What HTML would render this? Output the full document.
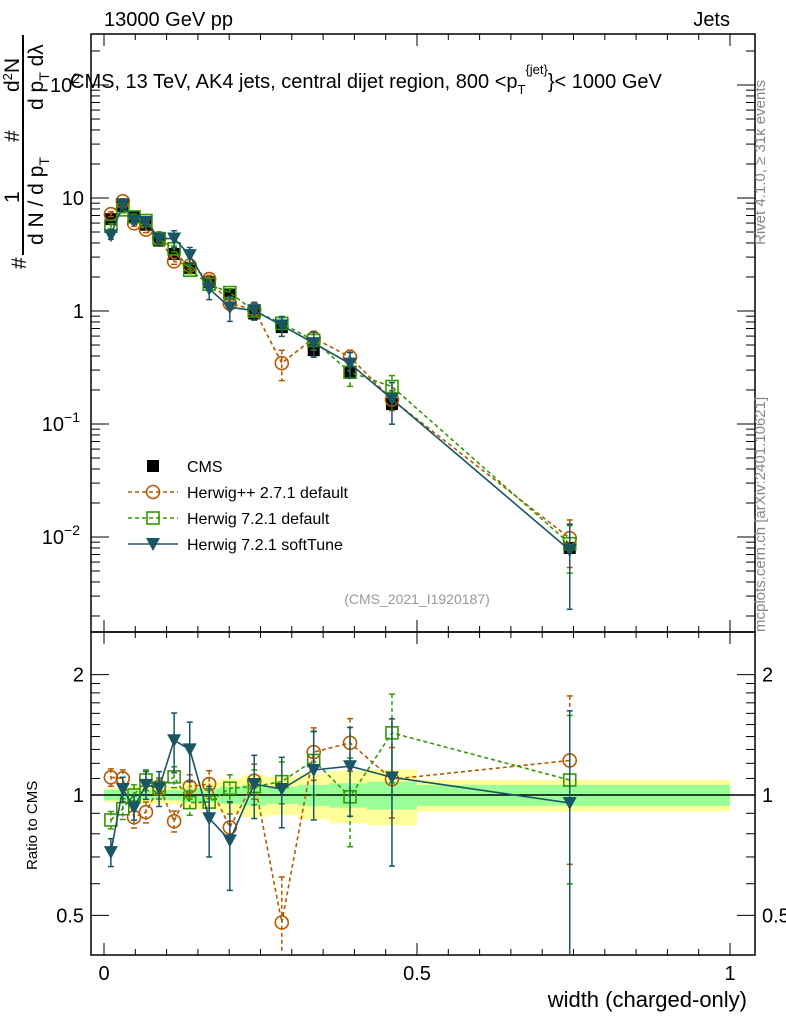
<!DOCTYPE html>
<html><head><meta charset="utf-8"><style>
body{margin:0;background:#fff;font-family:"Liberation Sans",sans-serif}
svg text{font-family:"Liberation Sans","DejaVu Sans",sans-serif}
</style></head><body>
<svg id="c" width="786" height="1024" xmlns="http://www.w3.org/2000/svg"></svg>
<script>
const xs=[0.011,0.030,0.048,0.067,0.088,0.112,0.137,0.168,0.201,0.240,0.284,0.335,0.393,0.460,0.744];
const cms=[6.5,8.5,6.8,5.8,4.2,3.2,2.4,1.8,1.4,0.95,0.72,0.45,0.29,0.15,0.008];
const rHpp=[1.107,1.10,0.88,0.906,1.05,0.86,1.05,1.065,0.83,1.085,0.48,1.28,1.35,1.095,1.22];
const eHpp=[0.05,0.05,0.06,0.06,0.05,0.06,0.07,0.08,0.08,0.10,0.30,0.15,0.15,0.20,0.45];
const rH7=[0.866,0.924,1.0,1.09,1.04,1.11,0.957,0.96,1.04,1.05,1.08,1.22,0.99,1.43,1.09];
const eH7=[0.05,0.06,0.06,0.06,0.06,0.06,0.07,0.08,0.08,0.10,0.12,0.18,0.25,0.25,0.45];
const rSoft=[0.72,1.035,0.93,1.06,1.04,1.37,1.30,0.875,0.77,1.065,1.035,1.155,1.18,1.107,0.955];
const eSoft=[0.08,0.07,0.07,0.08,0.10,0.17,0.17,0.20,0.25,0.18,0.20,0.25,0.25,0.40,0.70];
const edges=[0,0.02,0.04,0.055,0.08,0.1,0.125,0.15,0.185,0.22,0.26,0.31,0.36,0.42,0.5,1.0];
const band1=[0.03,0.03,0.03,0.03,0.03,0.03,0.04,0.04,0.05,0.06,0.05,0.06,0.07,0.08,0.06];
const band2=[0.04,0.04,0.05,0.05,0.05,0.05,0.07,0.08,0.10,0.12,0.11,0.13,0.15,0.16,0.09];
const svg=document.getElementById('c');const NS='http://www.w3.org/2000/svg';
function el(t,a,p){const e=document.createElementNS(NS,t);for(const k in a)e.setAttribute(k,a[k]);(p||svg).appendChild(e);return e;}
const L=91,R=755,T=34,M=632,B=955;
const X=v=>104+626*v;
const Y=v=>198-113*Math.log10(v/10);
const RY=r=>795-400*Math.log10(r);
edges.slice(0,-1).forEach((e,i)=>{const b=el('rect',{x:X(e),y:RY(1+band2[i]),width:X(edges[i+1])-X(e),height:RY(1-band2[i])-RY(1+band2[i]),fill:'#ffff99'});

const g=el('rect',{x:X(e),y:RY(1+band1[i]),width:X(edges[i+1])-X(e),height:RY(1-band1[i])-RY(1+band1[i]),fill:'#99ff99'});
});
el('line',{x1:L,x2:R,y1:RY(1),y2:RY(1),stroke:'#000','stroke-width':1.5});
el('rect',{x:L,y:T,width:R-L,height:M-T,fill:'none',stroke:'#000','stroke-width':1.5});
el('rect',{x:L,y:M,width:R-L,height:B-M,fill:'none',stroke:'#000','stroke-width':1.5});
for(let v=0;v<=1.0001;v+=0.05){const big=Math.round(v*20)%10==0;const l=big?12:6;
for(const [a,b] of [[T,M],[M,B]]){el('line',{x1:X(v),x2:X(v),y1:a,y2:a+l,stroke:'#000'});el('line',{x1:X(v),x2:X(v),y1:b,y2:b-l,stroke:'#000'});}}
[['0',0],['0.5',0.5],['1',1]].forEach(([t,v])=>{const e=el('text',{x:X(v),y:980,'font-size':20,'text-anchor':'middle'});e.textContent=t;});
for(let d=-3;d<=2;d++)for(let m=1;m<10;m++){const v=m*Math.pow(10,d);const y=Y(v);if(y<T||y>M)continue;const l=m==1?18:9;
el('line',{x1:L,x2:L+l,y1:y,y2:y,stroke:'#000'});el('line',{x1:R,x2:R-l,y1:y,y2:y,stroke:'#000'});}
[['1',1],['10',10]].forEach(([t,v])=>{const e=el('text',{x:84,y:Y(v)+7,'font-size':20,'text-anchor':'end'});e.textContent=t;});
[[-1,0.1],[-2,0.01],[2,100]].forEach(([p,v])=>{const e=el('text',{x:80,y:Y(v)+7,'font-size':20,'text-anchor':'end'});e.innerHTML='10<tspan dy="-9" font-size="14">'+(p<0?'−'+(-p):p)+'</tspan>';});
[0.5,0.6,0.7,0.8,0.9,1,1.1,1.2,1.3,1.4,1.5,1.6,1.7,1.8,1.9,2].forEach(r=>{const y=RY(r);if(y<M||y>B)return;const l=(r==1||r==2||r==0.5)?18:9;
el('line',{x1:L,x2:L+l,y1:y,y2:y,stroke:'#000'});el('line',{x1:R,x2:R-l,y1:y,y2:y,stroke:'#000'});});
[['0.5',0.5],['1',1],['2',2]].forEach(([t,v])=>{for(const [x,a] of [[84,'end'],[762,'start']]){const e=el('text',{x:x,y:RY(v)+7,'font-size':20,'text-anchor':a});e.textContent=t;}});
function marker(kind,x,y,col){
 if(kind=='sq')return el('rect',{x:x-6,y:y-6,width:12,height:12,fill:'#000'});
 if(kind=='osq')return el('rect',{x:x-6,y:y-6,width:12,height:12,fill:'none',stroke:col,'stroke-width':1.6});
 if(kind=='circ')return el('circle',{cx:x,cy:y,r:6.5,fill:'none',stroke:col,'stroke-width':1.6});
 return el('path',{d:`M${x-7},${y-6}L${x+7},${y-6}L${x},${y+7}Z`,fill:col});
}
function series(ratios,errs,col,kind,dash,name){
 const top=[],bot=[];
 ratios.forEach((r,i)=>{top.push([X(xs[i]),Y(cms[i]*r)]);bot.push([X(xs[i]),RY(r)]);});
 for(const pts of [top,bot]){const p=el('polyline',{points:pts.map(q=>q.join(',')).join(' '),fill:'none',stroke:col,'stroke-width':1.6,'stroke-dasharray':dash});}
 ratios.forEach((r,i)=>{const x=X(xs[i]);
  for(const [yf,base] of [[Y,cms[i]],[RY,1]]){const hi=yf(base*r*(1+errs[i])),lo=yf(base*Math.max(r*(1-errs[i]),0.001));
   const loc=Math.min(lo,yf===Y?M:B);
   el('line',{x1:x,x2:x,y1:hi,y2:loc,stroke:col,'stroke-width':1.5,'stroke-dasharray':dash});
   el('line',{x1:x-3,x2:x+3,y1:hi,y2:hi,stroke:col,'stroke-width':1.5});
   if(lo<(yf===Y?M:B))el('line',{x1:x-3,x2:x+3,y1:lo,y2:lo,stroke:col,'stroke-width':1.5});
   const m=marker(kind,x,yf(base*r),col);}
 });
}
cms.forEach((v,i)=>{const m=marker('sq',X(xs[i]),Y(v));});
series(rHpp,eHpp,'#b35900','circ','4,3','herwigpp');
series(rH7,eH7,'#339900','osq','4,3','herwig7');
series(rSoft,eSoft,'#1a5566','tri','','softtune');
const leg=[['CMS','sq','#000',''],['Herwig++ 2.7.1 default','circ','#b35900','4,3'],['Herwig 7.2.1 default','osq','#339900','4,3'],['Herwig 7.2.1 softTune','tri','#1a5566','']];
leg.forEach(([t,k,c,d],i)=>{const y=466+i*26;
 if(i>0)el('line',{x1:128,x2:178,y1:y,y2:y,stroke:c,'stroke-width':1.6,'stroke-dasharray':d});
 marker(k,153,y,c);
 const e=el('text',{x:187,y:y+6,'font-size':16});e.textContent=t;});
function txt(s,a,name){const e=el('text',a);e.innerHTML=s;return e;}
txt('13000 GeV pp',{x:104,y:26,'font-size':20},'beam-label');
txt('Jets',{x:730,y:26,'font-size':20,'text-anchor':'end'},'process-label');
txt('CMS, 13 TeV, AK4 jets, central dijet region, 800 &lt;p<tspan dy="6" font-size="13">T</tspan><tspan dy="-20" font-size="13">{jet}</tspan><tspan dy="14">}&lt; 1000 GeV</tspan>',{x:70,y:88,'font-size':20},'plot-title');
txt('(CMS_2021_I1920187)',{x:417,y:604,'font-size':14,fill:'#999','text-anchor':'middle'},'analysis-id');
txt('width (charged-only)',{x:747,y:1007,'font-size':22,'text-anchor':'end'},'x-axis-title');
txt('Ratio to CMS',{x:0,y:0,'font-size':15,transform:'translate(37,870) rotate(-90)'},'ratio-axis-title');
txt('Rivet 4.1.0, ≥ 31k events',{x:0,y:0,'font-size':15,fill:'#888',transform:'translate(765,245) rotate(-90)'},'rivet-label');
txt('mcplots.cern.ch [arXiv:2401.10621]',{x:0,y:0,'font-size':15,fill:'#888',transform:'translate(765,632) rotate(-90)'},'mcplots-label');
// y-axis title (rotated compound fraction)
el('line',{x1:23,x2:23,y1:35,y2:255,stroke:'#000','stroke-width':2});
txt('#',{x:0,y:0,'font-size':21,transform:'translate(26,269) rotate(-90)'},'y-axis-title-hash1');
txt('1',{x:0,y:0,'font-size':21,transform:'translate(19,203) rotate(-90)'},'y-axis-title-one');
txt('#',{x:0,y:0,'font-size':21,transform:'translate(19,142) rotate(-90)'},'y-axis-title-hash2');
txt('d<tspan dy="-7" font-size="13">2</tspan><tspan dy="7">N</tspan>',{x:0,y:0,'font-size':21,transform:'translate(19,92) rotate(-90)'},'y-axis-title-d2n');
txt('d N / d p<tspan dy="6" font-size="14">T</tspan>',{x:0,y:0,'font-size':21,transform:'translate(43,245) rotate(-90)'},'y-axis-title-dndpt');
txt('d p<tspan dy="6" font-size="14">T</tspan><tspan dy="-6">  d</tspan>λ',{x:0,y:0,'font-size':21,transform:'translate(43,110) rotate(-90)'},'y-axis-title-dptdl');
</script>
</body></html>
